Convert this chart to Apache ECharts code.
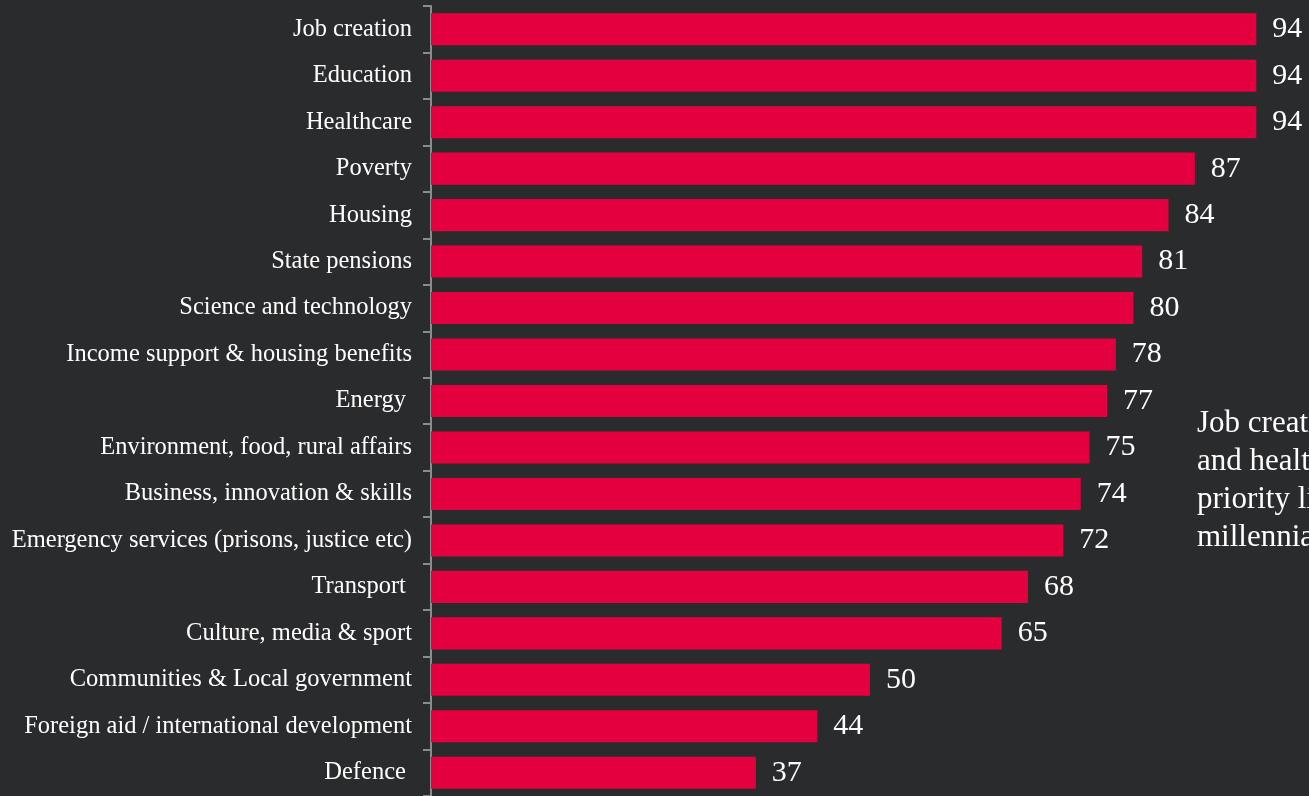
<!DOCTYPE html>
<html>
<head>
<meta charset="utf-8">
<title>Millennial policy priorities</title>
<script src="https://cdn.jsdelivr.net/npm/echarts@6/dist/echarts.min.js"></script>
<style>
  html, body { margin: 0; padding: 0; background: #2a2b2d; }
  #chart { width: 1309px; height: 796px; }
</style>
</head>
<body>
<div id="chart"></div>
<script>
// Policy areas, top to bottom
const categories = [
  'Job creation',
  'Education',
  'Healthcare',
  'Poverty',
  'Housing',
  'State pensions',
  'Science and technology',
  'Income support & housing benefits',
  'Energy ',
  'Environment, food, rural affairs',
  'Business, innovation & skills',
  'Emergency services (prisons, justice etc)',
  'Transport ',
  'Culture, media & sport',
  'Communities & Local government',
  'Foreign aid / international development',
  'Defence '
];

// Share rating each area as a priority (%)
const values = [94, 94, 94, 87, 84, 81, 80, 78, 77, 75, 74, 72, 68, 65, 50, 44, 37];

// Side note
const noteLines = [
  'Job creation, education',
  'and healthcare are the top',
  'priority lines for',
  'millennials'
];

const serif = "'Liberation Serif', 'Times New Roman', serif";

const chart = echarts.init(document.getElementById('chart'), null, { renderer: 'canvas' });

chart.setOption({
  backgroundColor: '#2a2b2d',
  animation: false,
  grid: { left: 431, right: -4, top: 6, bottom: -2, containLabel: false },
  xAxis: {
    type: 'value',
    min: 0,
    max: 100,
    show: false
  },
  yAxis: {
    type: 'category',
    data: categories,
    inverse: true,
    axisLine: { show: true, lineStyle: { color: '#8c8c8c', width: 2 } },
    axisTick: { show: true, inside: false, length: 8, alignWithLabel: false, lineStyle: { color: '#8c8c8c', width: 2 } },
    axisLabel: {
      color: '#ffffff',
      fontFamily: serif,
      fontSize: 24.5,
      margin: 19
    },
    splitLine: { show: false }
  },
  series: [{
    type: 'bar',
    data: values,
    barCategoryGap: '31%',
    itemStyle: { color: '#e4003f' },
    label: {
      show: true,
      position: 'right',
      distance: 16,
      color: '#ffffff',
      fontFamily: serif,
      fontSize: 30
    }
  }],
  graphic: [{
    type: 'text',
    left: 1197,
    top: 405,
    style: {
      text: noteLines.join('\n'),
      fill: '#ffffff',
      font: '31px ' + serif,
      lineHeight: 38
    }
  }]
});
</script>
</body>
</html>
